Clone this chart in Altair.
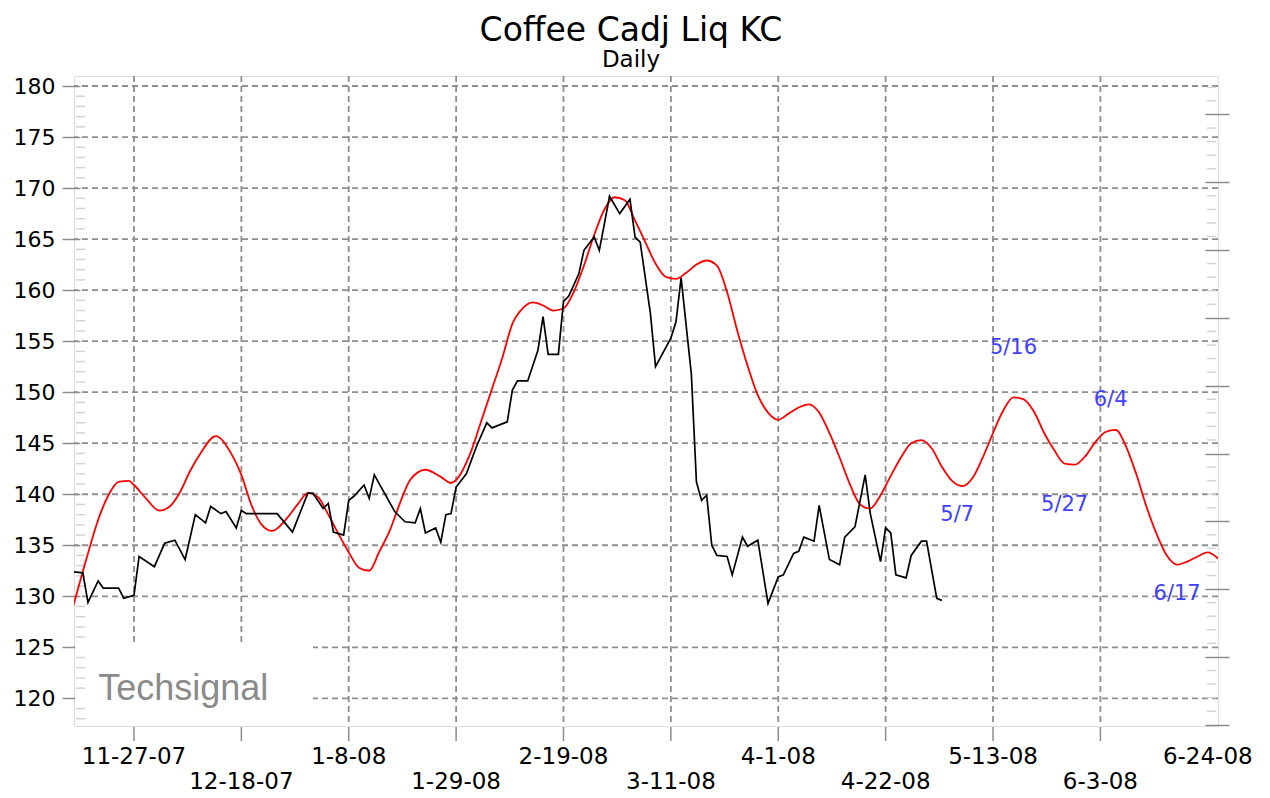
import altair as alt
import pandas as pd

# ---------------- data ----------------
price_dates = [
    "2007-11-15", "2007-11-17", "2007-11-18", "2007-11-20", "2007-11-21", "2007-11-24",
    "2007-11-25", "2007-11-27", "2007-11-28", "2007-12-01", "2007-12-03", "2007-12-05",
    "2007-12-07", "2007-12-09", "2007-12-11", "2007-12-12", "2007-12-14", "2007-12-15",
    "2007-12-17", "2007-12-18", "2007-12-19", "2007-12-25", "2007-12-28", "2007-12-31",
    "2008-01-01", "2008-01-03", "2008-01-04", "2008-01-05", "2008-01-07", "2008-01-08",
    "2008-01-09", "2008-01-11", "2008-01-12", "2008-01-13", "2008-01-17", "2008-01-19",
    "2008-01-21", "2008-01-22", "2008-01-23", "2008-01-25", "2008-01-26", "2008-01-27",
    "2008-01-28", "2008-01-29", "2008-01-31", "2008-02-02", "2008-02-04", "2008-02-05",
    "2008-02-08", "2008-02-09", "2008-02-10", "2008-02-12", "2008-02-14", "2008-02-15",
    "2008-02-16", "2008-02-18", "2008-02-19", "2008-02-20", "2008-02-22", "2008-02-23",
    "2008-02-25", "2008-02-26", "2008-02-27", "2008-02-28", "2008-03-01", "2008-03-03",
    "2008-03-04", "2008-03-05", "2008-03-07", "2008-03-08", "2008-03-11", "2008-03-12",
    "2008-03-13", "2008-03-15", "2008-03-16", "2008-03-17", "2008-03-18", "2008-03-19",
    "2008-03-20", "2008-03-22", "2008-03-23", "2008-03-25", "2008-03-26", "2008-03-28",
    "2008-03-30", "2008-04-01", "2008-04-02", "2008-04-04", "2008-04-05", "2008-04-06",
    "2008-04-08", "2008-04-09", "2008-04-11", "2008-04-13", "2008-04-14", "2008-04-16",
    "2008-04-18", "2008-04-19", "2008-04-21", "2008-04-22", "2008-04-23", "2008-04-24",
    "2008-04-26", "2008-04-27", "2008-04-29", "2008-04-30", "2008-05-01", "2008-05-02",
    "2008-05-03",
]
price_values = [
    132.4, 132.3, 129.4, 131.5, 130.8, 130.8,
    129.8, 130.1, 133.9, 132.9, 135.2, 135.5,
    133.6, 138.0, 137.2, 138.8, 138.1, 138.3,
    136.7, 138.4, 138.1, 138.1, 136.3, 140.1,
    140.1, 138.6, 139.1, 136.3, 136.0, 139.4,
    139.8, 140.9, 139.6, 141.9, 138.3, 137.3,
    137.2, 138.6, 136.2, 136.7, 135.3, 138.0,
    138.1, 140.7, 142.0, 144.7, 147.0, 146.5,
    147.1, 150.2, 151.1, 151.1, 154.1, 157.4,
    153.7, 153.7, 158.9, 159.4, 161.6, 163.9,
    165.2, 163.9, 166.5, 169.2, 167.5, 168.9,
    165.2, 164.7, 157.7, 152.5, 155.3, 156.9,
    161.2, 151.8, 141.2, 139.4, 139.9, 135.0,
    134.0, 133.9, 132.1, 135.8, 134.9, 135.5,
    129.3, 131.9, 132.1, 134.2, 134.4, 135.8,
    135.4, 138.9, 133.6, 133.1, 135.8, 136.8,
    141.9, 138.1, 133.4, 136.7, 136.2, 132.1,
    131.8, 134.0, 135.4, 135.4, 132.6, 129.8,
    129.6,
]

signal_dates = [
    "2007-11-15", "2007-11-18", "2007-11-20", "2007-11-22", "2007-11-24", "2007-11-26",
    "2007-11-27", "2007-11-29", "2007-12-02", "2007-12-04", "2007-12-06", "2007-12-08",
    "2007-12-10", "2007-12-13", "2007-12-16", "2007-12-18", "2007-12-20", "2007-12-22",
    "2007-12-24", "2007-12-27", "2007-12-29", "2007-12-31", "2008-01-02", "2008-01-04",
    "2008-01-06", "2008-01-08", "2008-01-10", "2008-01-12", "2008-01-14", "2008-01-16",
    "2008-01-18", "2008-01-20", "2008-01-23", "2008-01-26", "2008-01-28", "2008-01-29",
    "2008-02-01", "2008-02-03", "2008-02-05", "2008-02-07", "2008-02-09", "2008-02-11",
    "2008-02-13", "2008-02-15", "2008-02-17", "2008-02-19", "2008-02-21", "2008-02-23",
    "2008-02-25", "2008-02-27", "2008-02-29", "2008-03-02", "2008-03-04", "2008-03-06",
    "2008-03-08", "2008-03-10", "2008-03-12", "2008-03-14", "2008-03-16", "2008-03-18",
    "2008-03-20", "2008-03-22", "2008-03-24", "2008-03-26", "2008-03-28", "2008-03-30",
    "2008-04-01", "2008-04-03", "2008-04-05", "2008-04-07", "2008-04-09", "2008-04-11",
    "2008-04-13", "2008-04-15", "2008-04-17", "2008-04-19", "2008-04-21", "2008-04-23",
    "2008-04-25", "2008-04-27", "2008-04-29", "2008-05-01", "2008-05-03", "2008-05-05",
    "2008-05-07", "2008-05-09", "2008-05-11", "2008-05-13", "2008-05-15", "2008-05-17",
    "2008-05-19", "2008-05-21", "2008-05-23", "2008-05-25", "2008-05-27", "2008-05-29",
    "2008-05-31", "2008-06-02", "2008-06-04", "2008-06-06", "2008-06-08", "2008-06-10",
    "2008-06-12", "2008-06-14", "2008-06-16", "2008-06-18", "2008-06-20", "2008-06-22",
    "2008-06-24", "2008-06-26",
]
signal_values = [
    128.8, 134.2, 137.5, 139.9, 141.2, 141.3,
    140.9, 139.8, 138.4, 138.8, 140.2, 142.3,
    144.0, 145.7, 144.0, 141.9, 138.9, 137.0,
    136.4, 137.7, 139.0, 140.1, 139.7, 138.0,
    136.1, 134.3, 132.8, 132.5, 134.4, 136.4,
    139.1, 141.4, 142.4, 141.7, 141.1, 141.4,
    144.3, 147.3, 150.3, 153.3, 156.7, 158.2,
    158.8, 158.5, 158.0, 158.2, 159.8, 162.4,
    165.4, 167.9, 169.1, 168.8, 166.8, 164.7,
    162.6, 161.3, 161.1, 161.7, 162.5, 162.9,
    162.4, 159.8, 156.0, 152.6, 149.7, 148.0,
    147.3, 147.9, 148.5, 148.8, 148.0, 146.0,
    143.6, 141.0, 139.0, 138.6, 139.9, 141.8,
    143.6, 145.0, 145.3, 144.5, 142.7, 141.3,
    140.8, 141.6, 143.6, 146.0, 148.2, 149.5,
    149.3, 148.1, 146.0, 144.3, 143.0, 142.9,
    143.7, 145.1, 146.1, 146.3, 144.7, 142.0,
    138.8, 136.1, 134.0, 133.1, 133.4, 133.9,
    134.3, 133.7,
]

note_labels = ["5/7", "5/16", "5/27", "6/4", "6/17"]
note_dates = ["2008-05-06", "2008-05-17", "2008-05-27", "2008-06-05", "2008-06-18"]
note_values = [138.0, 154.3, 138.9, 149.2, 130.2]

x_label_dates = ["2007-11-27", "2007-12-18", "2008-01-08", "2008-01-29", "2008-02-19",
                 "2008-03-11", "2008-04-01", "2008-04-22", "2008-05-13", "2008-06-03",
                 "2008-06-24"]
x_labels = ["11-27-07", "12-18-07", "1-8-08", "1-29-08", "2-19-08", "3-11-08",
            "4-1-08", "4-22-08", "5-13-08", "6-3-08", "6-24-08"]
grid_dates = x_label_dates[:-1]
y_ticks = [120, 125, 130, 135, 140, 145, 150, 155, 160, 165, 170, 175, 180]
y_minor = [v for v in range(118, 181) if v % 5 != 0]
right_ticks = [117.41, 124.06, 130.70, 137.34, 143.99, 150.63, 157.28, 163.92, 170.56, 177.21]
right_minor = [round(t + k * 1.329, 2) for t in right_ticks for k in range(1, 5)
               if t + k * 1.329 < 180.9]

# ---------------- scales ----------------
x_scale = alt.Scale(type="utc", domain=[
    alt.DateTime(year=2007, month=11, date=15, hours=6, minutes=30, utc=True),
    alt.DateTime(year=2008, month=6, date=26, utc=True)])
y_scale = alt.Scale(domain=[117.29, 180.98], nice=False, zero=False)

FONT = "DejaVu Sans"
GRID = "#8e8e8e"
TICK = "#8c8c8c"

price_df = pd.DataFrame({"date": price_dates, "value": price_values})
signal_df = pd.DataFrame({"date": signal_dates, "value": signal_values})
notes_df = pd.DataFrame({"date": note_dates, "value": note_values, "label": note_labels})
xlab_df = pd.DataFrame({"date": x_label_dates, "label": x_labels,
                        "row": [i % 2 for i in range(len(x_labels))]})

hgrid = alt.Chart(pd.DataFrame({"v": y_ticks})).mark_rule(
    color=GRID, strokeDash=[6, 4], strokeWidth=1.8
).encode(y=alt.Y("v:Q", scale=y_scale, axis=None))

vgrid = alt.Chart(pd.DataFrame({"d": grid_dates})).mark_rule(
    color=GRID, strokeDash=[6, 4], strokeWidth=1.8
).encode(x=alt.X("d:T", scale=x_scale, axis=None))

xticks = alt.Chart(pd.DataFrame({"d": grid_dates})).mark_rule(
    color=TICK, strokeWidth=1.5
).encode(x=alt.X("d:T", scale=x_scale, axis=None), y=alt.value(651), y2=alt.value(665))

xlab_top = alt.Chart(xlab_df).transform_filter("datum.row == 0").mark_text(
    font=FONT, fontSize=23, color="#000000", align="center", baseline="alphabetic"
).encode(x=alt.X("date:T", scale=x_scale, axis=None), y=alt.value(688), text="label:N")

xlab_bottom = alt.Chart(xlab_df).transform_filter("datum.row == 1").mark_text(
    font=FONT, fontSize=23, color="#000000", align="center", baseline="alphabetic"
).encode(x=alt.X("date:T", scale=x_scale, axis=None), y=alt.value(713), text="label:N")

box = alt.Chart(pd.DataFrame({
    "x0": ["2007-11-15T12:00:00Z"], "x1": ["2008-01-01"], "y0": [117.4], "y1": [125.15]
})).mark_rect(color="white").encode(
    x=alt.X("x0:T", scale=x_scale, axis=None), x2="x1:T",
    y=alt.Y("y0:Q", scale=y_scale, axis=None), y2="y1:Q")

watermark = alt.Chart(pd.DataFrame({"d": ["2007-11-20"], "v": [119.8], "t": ["Techsignal"]})).mark_text(
    font="Liberation Sans", fontSize=36, color="#8a8a8a", align="left", baseline="alphabetic"
).encode(x=alt.X("d:T", scale=x_scale, axis=None), y=alt.Y("v:Q", scale=y_scale, axis=None), text="t:N")

minor_left = alt.Chart(pd.DataFrame({"v": y_minor})).mark_rule(
    color="#d4d4d4", strokeWidth=1.5
).encode(y=alt.Y("v:Q", scale=y_scale, axis=None), x=alt.value(2), x2=alt.value(11))

minor_right = alt.Chart(pd.DataFrame({"v": right_minor})).mark_rule(
    color="#d4d4d4", strokeWidth=1.5
).encode(y=alt.Y("v:Q", scale=y_scale, axis=None), x=alt.value(1133), x2=alt.value(1142))

signal = alt.Chart(signal_df).mark_line(
    color="#ff0000", strokeWidth=1.8, interpolate="monotone", clip=True
).encode(
    x=alt.X("date:T", scale=x_scale, axis=None),
    y=alt.Y("value:Q", scale=y_scale, axis=alt.Axis(
        orient="right", values=right_ticks, labels=False, domain=False, grid=False,
        offset=-13, tickSize=24, tickColor=TICK, tickWidth=1.5, title=None)),
)

price = alt.Chart(price_df).mark_line(color="#000000", strokeWidth=1.7, clip=True).encode(
    x=alt.X("date:T", scale=x_scale, axis=None),
    y=alt.Y("value:Q", scale=y_scale, axis=alt.Axis(
        orient="left", values=y_ticks, grid=False, domain=False, title=None,
        offset=-6, tickSize=18, tickColor=TICK, tickWidth=1.5,
        labelFont=FONT, labelFontSize=22, labelColor="#000000", labelPadding=7)),
)

notes = alt.Chart(notes_df).mark_text(
    font=FONT, fontSize=21, color="#4040ff", align="center", baseline="middle"
).encode(
    x=alt.X("date:T", scale=x_scale, axis=None),
    y=alt.Y("value:Q", scale=y_scale, axis=None),
    text="label:N",
)

chart = alt.layer(
    hgrid, vgrid, xticks, xlab_top, xlab_bottom, box, watermark,
    minor_left, minor_right, signal, price, notes
).resolve_axis(y="independent").properties(
    width=1144, height=650,
    autosize=alt.AutoSizeParams(type="none"),
    padding={"left": 66, "top": 68, "right": 44, "bottom": 72},
    title=alt.Title(
        text="Coffee Cadj Liq KC", subtitle="\u00a0" * 7 + "Daily",
        font=FONT, fontSize=33, fontWeight="normal", color="#000000",
        subtitleFont=FONT, subtitleFontSize=23, subtitleColor="#000000",
        anchor="middle", frame="group", dx=-15, offset=3, subtitlePadding=1.5),
).configure_view(stroke="#8c8c8c", strokeWidth=2).configure(background="white")

chart.save("out.html", embed_options={"renderer": "svg", "actions": False})
